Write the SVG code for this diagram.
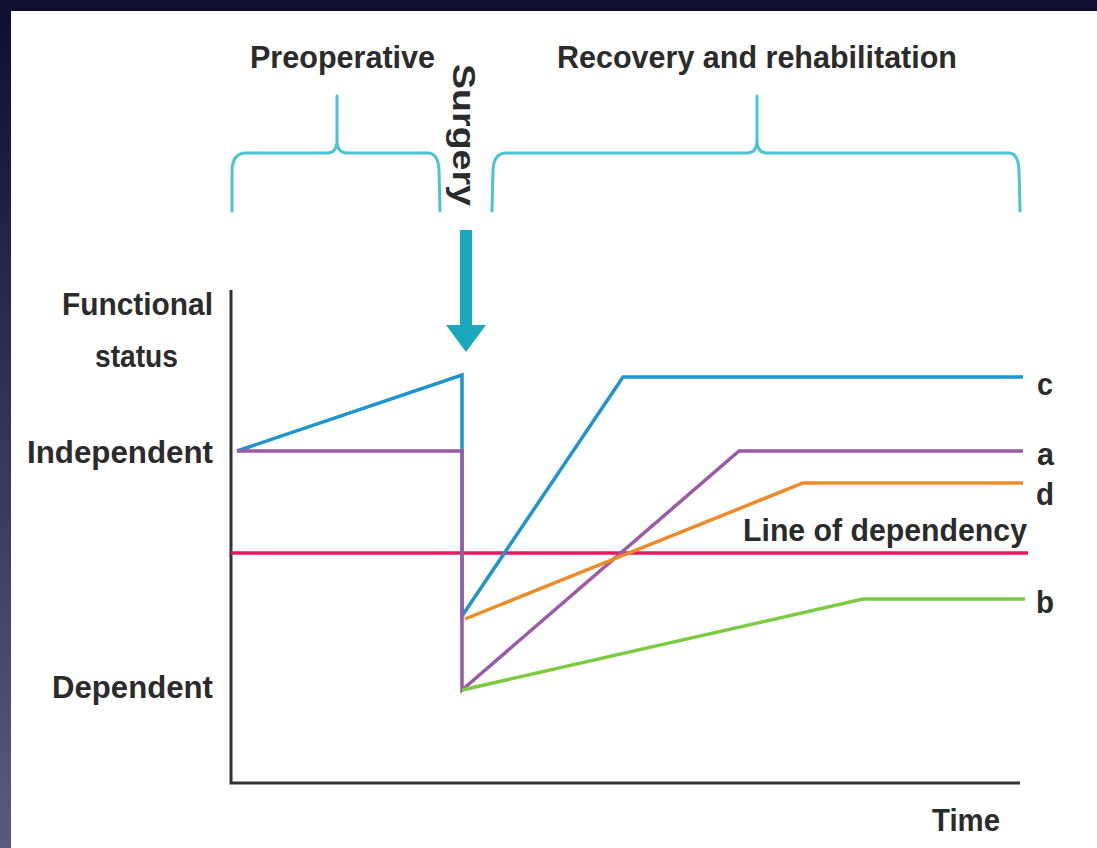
<svg xmlns="http://www.w3.org/2000/svg" width="1097" height="848" viewBox="0 0 1097 848">
<style>
.t{font-family:"Liberation Sans",Arial,sans-serif;font-weight:bold;fill:#2b2b2b;font-size:31px}
.br{fill:none;stroke:#4cc3d3;stroke-width:3;stroke-linecap:round}
.ln{fill:none;stroke-width:3.5;stroke-linejoin:miter}
</style>
<defs>
<linearGradient id="bg" x1="0" y1="0" x2="0" y2="1">
<stop offset="0" stop-color="#100e2e"/>
<stop offset="1" stop-color="#5b5a7b"/>
</linearGradient>
</defs>
<rect x="0" y="0" width="1097" height="848" fill="url(#bg)"/>
<rect x="11" y="11" width="1086" height="837" fill="#ffffff"/>

<g id="phase-preoperative">
<text class="t" x="250" y="68" textLength="185" lengthAdjust="spacingAndGlyphs">Preoperative</text>
<path class="br" d="M232,211 L232,172 Q232,153 246,153 L327,153 Q337,153 337,140 L337,96 M337,140 Q337,153 347,153 L428,153 Q438,153 439,170 L440,211"/>
</g>
<g id="phase-surgery">
<text class="t" transform="translate(453,64) rotate(90)" x="0" y="0" textLength="142" lengthAdjust="spacingAndGlyphs">Surgery</text>
<path d="M460,230 H472 V325 H486 L466,352 L446,325 H460 Z" fill="#19a8bc"/>
</g>
<g id="phase-recovery">
<text class="t" x="557" y="68" textLength="400" lengthAdjust="spacingAndGlyphs">Recovery and rehabilitation</text>
<path class="br" d="M492,211 L493,170 Q494,153 506,153 L747,153 Q757,153 757,140 L757,96 M757,140 Q757,153 767,153 L1009,153 Q1018,153 1019,170 L1020,211"/>
</g>

<g id="axis-labels">
<text class="t" x="62" y="315" textLength="151" lengthAdjust="spacingAndGlyphs">Functional</text>
<text class="t" x="95" y="367" textLength="83" lengthAdjust="spacingAndGlyphs">status</text>
<text class="t" x="27" y="463" textLength="186" lengthAdjust="spacingAndGlyphs">Independent</text>
<text class="t" x="52" y="698" textLength="161" lengthAdjust="spacingAndGlyphs">Dependent</text>
<text class="t" x="932" y="831" textLength="68" lengthAdjust="spacingAndGlyphs">Time</text>
</g>

<g id="axes">
<path d="M231,290 V783 H1020" fill="none" stroke="#333333" stroke-width="3"/>
</g>

<g id="connectors">
<path class="ln" stroke="#e8185e" d="M231,553 H1028"/>
<path class="ln" stroke="#2095cc" d="M237,451 L462,375 V616 L623,377 H1023"/>
<path class="ln" stroke="#9b5aa8" d="M237,451 H462 V690 L739,451 H1023"/>
<path class="ln" stroke="#f08a26" d="M465,619 L803,483 H1023"/>
<path class="ln" stroke="#7acb40" d="M462,690 L863,599 H1025"/>
</g>

<g id="curve-labels">
<text class="t" x="1037" y="395" textLength="16" lengthAdjust="spacingAndGlyphs">c</text>
<text class="t" x="1037" y="465" textLength="17" lengthAdjust="spacingAndGlyphs">a</text>
<text class="t" x="1036" y="505" textLength="18" lengthAdjust="spacingAndGlyphs">d</text>
<text class="t" x="1036" y="613" textLength="18" lengthAdjust="spacingAndGlyphs">b</text>
<text class="t" x="743" y="541" textLength="284" lengthAdjust="spacingAndGlyphs">Line of dependency</text>
</g>
</svg>
